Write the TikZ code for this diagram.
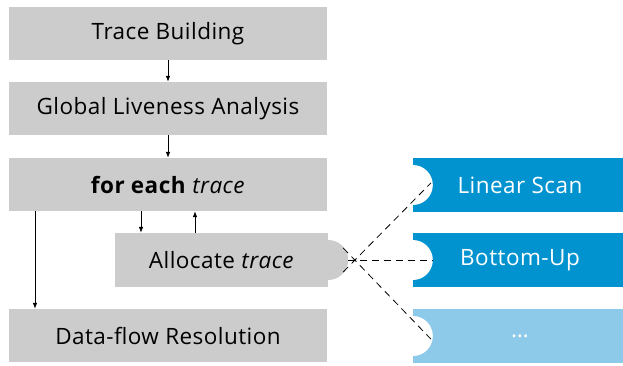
\documentclass[tikz,border=0pt]{standalone}
\usepackage{fontspec}
\setmainfont[LetterSpace=2]{Open Sans}
\usetikzlibrary{arrows.meta}
\definecolor{boxgray}{HTML}{CCCCCC}
\definecolor{algblue}{HTML}{0093D0}
\definecolor{lightblue}{HTML}{8DCAEA}
\begin{document}
\begin{tikzpicture}[x=1pt,y=-1pt,
  stage/.style={fill=boxgray,minimum width=318pt,minimum height=53pt,inner sep=0pt,font=\fontsize{22.5}{26}\selectfont},
  alg/.style={fill=algblue,minimum width=210pt,minimum height=54pt,inner sep=0pt,text=white,font=\fontsize{22.5}{26}\selectfont},
  flow/.style={-{Latex[length=6pt,width=4.5pt]},line width=0.7pt},
  link/.style={dashed,dash pattern=on 7pt off 5pt,line width=0.8pt}]
\useasboundingbox (0,0) rectangle (623,365);
\node[stage] (tb) at (168,33.5) {Trace Building};
\node[stage] (gl) at (168,108.5) {Global Liveness Analysis};
\node[stage] (fe) at (168,184.5) {\textbf{for each} \textit{trace}};
\node[stage,minimum width=213pt,minimum height=54pt] (al) at (221.5,260) {Allocate \textit{trace}};
\node[stage] (df) at (168,335.5) {Data-flow Resolution};
\fill[boxgray] (al.east) circle[radius=20pt];
\node[alg] (ls) at (518,185) {\hspace*{4pt}Linear Scan};
\node[alg] (bu) at (518,260) {\hspace*{4pt}Bottom-Up};
\node[alg,fill=lightblue] (dots) at (518,336) {\hspace*{4pt}\dots};
\fill[white] (ls.west) circle[radius=20pt];
\fill[white] (bu.west) circle[radius=20pt];
\fill[white] (dots.west) circle[radius=20pt];
\coordinate (lse) at ([xshift=18pt,yshift=2pt]ls.west);
\coordinate (bue) at ([xshift=20pt]bu.west);
\coordinate (dotse) at ([xshift=18pt,yshift=-3pt]dots.west);
\draw[link] ([shift={(15pt,-12pt)}]al.east) -- (lse);
\draw[link] ([xshift=20pt]al.east) -- (bue);
\draw[link] ([shift={(15pt,12pt)}]al.east) -- (dotse);
\draw[flow] (tb.south) -- (gl.north);
\draw[flow] (gl.south) -- (fe.north);
\draw[flow] (fe.south -| 141,0) -- (al.north -| 141,0);
\draw[flow] (al.north -| 195,0) -- (fe.south -| 195,0);
\draw[flow] (fe.south -| 35,0) -- (df.north -| 35,0);
\end{tikzpicture}
\end{document}
